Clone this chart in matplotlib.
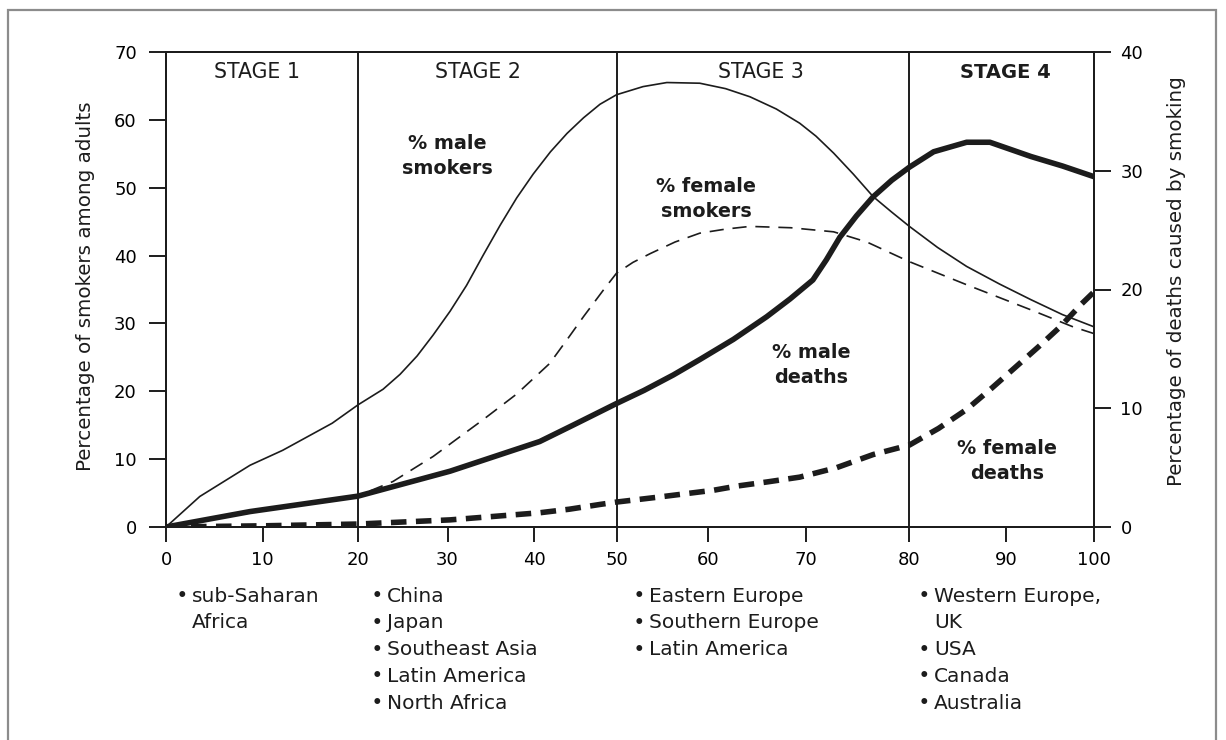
"""Four-stage model of the tobacco epidemic: smoking prevalence and smoking deaths."""

import matplotlib.pyplot as plt
import numpy as np
from matplotlib.patches import Rectangle

# ---- values ----
male_smokers_x = [0, 3.5, 8.7, 12.1, 17.3, 20, 22.8, 24.7, 26.6, 28.4, 30.3, 32.2, 34.1, 36.1, 38.0,
                  39.9, 42.0, 44.0, 46.0, 48.0, 50, 52.9, 55.5, 59.1, 61.8, 64.3, 67.0, 69.4,
                  71.0, 72.7, 74.6, 76.5, 78.3, 80, 82.9, 85.9, 89.3, 92.8, 96.4, 100]
male_smokers_y = [0, 4.5, 9.1, 11.3, 15.3, 18.0, 20.3, 22.5, 25.2, 28.3, 31.8, 35.6, 40.0, 44.5, 48.5,
                  52.0, 55.3, 58.0, 60.3, 62.3, 63.7, 64.9, 65.5, 65.4, 64.6, 63.4, 61.6, 59.5,
                  57.6, 55.1, 52.0, 48.7, 46.4, 44.3, 41.2, 38.4, 35.8, 33.5, 31.3, 29.5]

female_smokers_x = [0, 10, 20, 23.9, 28.4, 34.1, 38.0, 41.9, 44.0, 46.0, 48.4, 50, 51.8, 53.7,
                    56.4, 59.1, 61.8, 64.3, 68.5, 72.7, 75.9, 80, 85.9, 92.8, 97.6, 100]
female_smokers_y = [0, 2.4, 4.6, 6.7, 10.4, 15.8, 19.6, 24.1, 27.6, 31.0, 34.9, 37.4, 39.0, 40.3,
                    42.0, 43.3, 43.9, 44.3, 44.1, 43.5, 42.0, 39.1, 35.7, 32.0, 29.5, 28.5]

male_deaths_x = [0, 8.7, 20, 30.3, 40.7, 44.8, 50, 53.0, 56.2, 59.1, 62.6, 66.0, 68.4, 70.7, 72.0,
                 73.3, 74.9, 76.5, 78.3, 80, 82.5, 85.9, 88.3, 92.8, 96.4, 100]
male_deaths_y = [0, 1.3, 2.6, 4.7, 7.2, 8.6, 10.4, 11.5, 12.8, 14.1, 15.8, 17.7, 19.2, 20.8, 22.5,
                 24.4, 26.2, 27.8, 29.2, 30.3, 31.6, 32.4, 32.4, 31.2, 30.4, 29.5]

female_deaths_x = [0, 10, 20, 30.3, 40.7, 44.3, 48.0, 50, 54.4, 60.6, 63.0, 66.1, 69.4,
                   73.0, 76.5, 80, 83.0, 85.9, 88.5, 91.1, 93.7, 96.2, 98.6, 100]
female_deaths_y = [0, 0.1, 0.25, 0.6, 1.2, 1.5, 1.9, 2.1, 2.5, 3.1, 3.45, 3.8, 4.2,
                   5.0, 6.1, 6.9, 8.3, 9.9, 11.7, 13.5, 15.2, 16.9, 18.8, 19.8]

stage_bounds = [20, 50, 80]
stage_names = ["STAGE 1", "STAGE 2", "STAGE 3", "STAGE 4"]
stage_regions = [
    ["• sub-Saharan", "Africa"],
    ["• China", "• Japan", "• Southeast Asia", "• Latin America", "• North Africa"],
    ["• Eastern Europe", "• Southern Europe", "• Latin America"],
    ["• Western Europe,", "UK", "• USA", "• Canada", "• Australia"],
]
curve_labels = ["% male\nsmokers", "% female\nsmokers", "% male\ndeaths", "% female\ndeaths"]

x_ticks = list(range(0, 101, 10))
left_ticks = list(range(0, 71, 10))
right_ticks = list(range(0, 41, 10))

# the printed x axis is hand drawn, its ticks are not evenly spaced
tick_frac = np.array([0, 96.6, 192, 281.5, 368, 450.5, 542, 639.6, 743.4, 840.4, 928]) / 928


def fwd(x):
    return np.interp(x, x_ticks, tick_frac)


def inv(f):
    return np.interp(f, tick_frac, x_ticks)


W, H = 1226, 740
ink = "#1c1c1c"


def fx(px):
    return px / W


def fy(py):
    return 1 - py / H


fig = plt.figure(figsize=(W / 100, H / 100), dpi=100)
fig.patches.append(Rectangle((fx(8), -0.1), fx(1216 - 8), fy(10) + 0.1, transform=fig.transFigure,
                             fill=False, edgecolor="#8c8c8c", linewidth=1.6))

ax = fig.add_axes([fx(166), fy(527), fx(928), 475 / H])
ax.set_xscale("function", functions=(fwd, inv))
ax.set_xlim(0, 100)
ax.set_ylim(0, 70)
ax2 = ax.twinx()
ax2.set_ylim(0, 40)

for a in (ax, ax2):
    for s in a.spines.values():
        s.set_linewidth(1.4)
        s.set_color(ink)
    a.patch.set_visible(False)

ax.set_xticks(x_ticks)
ax.set_yticks(left_ticks)
ax2.set_yticks(right_ticks)
ax.tick_params(axis="x", direction="out", length=11, width=1.4, color=ink, labelsize=13, pad=6)
ax.tick_params(axis="y", direction="out", length=12, width=1.4, color=ink, labelsize=13, pad=9)
ax2.tick_params(axis="y", direction="out", length=12, width=1.4, color=ink, labelsize=13, pad=7)

for b in stage_bounds:
    ax.axvline(b, color=ink, linewidth=1.4)

ax.plot(male_smokers_x, male_smokers_y, color=ink, linewidth=1.2)
ax.plot(female_smokers_x, female_smokers_y, color=ink, linewidth=1.2,
        dashes=(8.5, 5.3), dash_capstyle="butt")
ax2.plot(male_deaths_x, male_deaths_y, color=ink, linewidth=4.0, solid_capstyle="butt")
ax2.plot(female_deaths_x, female_deaths_y, color=ink, linewidth=4.0,
         dashes=(2.8, 1.7), dash_capstyle="butt")

fig.text(fx(86), fy(286), "Percentage of smokers among adults", rotation=90,
         ha="center", va="center", fontsize=14.3, color=ink)
fig.text(fx(1177), fy(281), "Percentage of deaths caused by smoking", rotation=90,
         ha="center", va="center", fontsize=14.3, color=ink)

# stage headers
stage_px = [257, 478, 761, 1005]
for name, px in zip(stage_names, stage_px):
    bold = name.endswith("4")
    fig.text(fx(px), fy(72), name, ha="center", va="center", color=ink,
             fontsize=14 if bold else 14.8, fontweight="bold" if bold else "normal")

# curve labels
label_px = [(447, 156), (706, 199), (811, 365), (1007, 461)]
for txt, (px, py) in zip(curve_labels, label_px):
    fig.text(fx(px), fy(py), txt, ha="center", va="center", multialignment="center",
             fontsize=13.8, fontweight="bold", color=ink, linespacing=1.4)

# country lists under each stage
text_left = [192, 387, 649, 934]
for lines, tx in zip(stage_regions, text_left):
    for i, line in enumerate(lines):
        py = 596 + i * 26.8
        if line.startswith("•"):
            fig.text(fx(tx - 10), fy(py), "•", ha="center", va="center", fontsize=12,
                     fontweight="bold", color=ink)
            line = line[1:].strip()
        fig.text(fx(tx), fy(py), line, ha="left", va="center", fontsize=14.5, color=ink)

fig.savefig("out.png", dpi=100)
